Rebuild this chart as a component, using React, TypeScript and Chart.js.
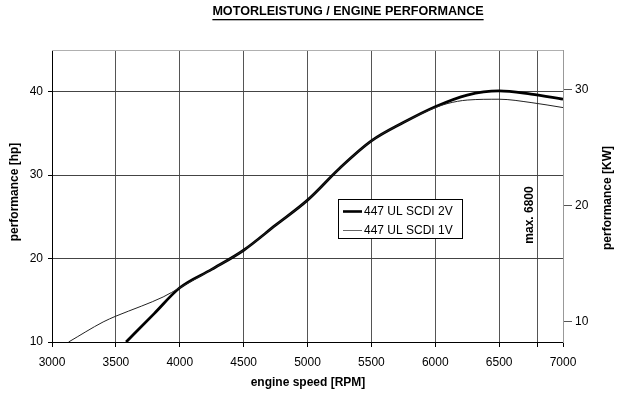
import React, { useEffect, useRef } from "react";
import { Chart, registerables } from "chart.js";

Chart.register(...registerables);

const chartTitle = "MOTORLEISTUNG / ENGINE PERFORMANCE";
const xTitle = "engine speed [RPM]";
const yLeftTitle = "performance [hp]";
const yRightTitle = "performance [KW]";
const maxLabel = "max. 6800";
const seriesNames = ["447 UL SCDI 2V", "447 UL SCDI 1V"];

const xTicks = [3000, 3500, 4000, 4500, 5000, 5500, 6000, 6500, 6800, 7000];
const xTickLabels = ["3000", "3500", "4000", "4500", "5000", "5500", "6000", "6500", "", "7000"];
const hpTicks = [10, 20, 30, 40];
const kwTicks = [10, 20, 30];

const rpm2V = [3580, 3800, 4000, 4250, 4500, 4750, 5000, 5250, 5500, 5750, 6000, 6250, 6500, 6750, 7000];
const hp2V = [10, 13.4, 16.5, 18.7, 21.0, 24.0, 27.0, 30.8, 34.1, 36.3, 38.2, 39.6, 40.1, 39.7, 39.1];

const rpm1V = [3130, 3400, 3500, 3700, 3870, 4000, 4250, 4500, 4750, 5000, 5250, 5500, 5750, 6000, 6100, 6250, 6500, 6750, 7000];
const hp1V = [10, 12.4, 13.1, 14.3, 15.4, 16.5, 18.7, 21.0, 24.0, 27.0, 30.8, 34.1, 36.3, 38.1, 38.6, 39.0, 39.1, 38.7, 38.1];

const FONT = "'Liberation Sans', Arial, sans-serif";

const overlay = {
  id: "overlay",
  afterDatasetsDraw(chart: any) {
    const ctx = chart.ctx;
    const a = chart.chartArea;
    const xs = chart.scales.x;
    ctx.save();
    // top border
    ctx.strokeStyle = "#b0b0b0";
    ctx.lineWidth = 1;
    ctx.beginPath();
    ctx.moveTo(a.left, Math.round(a.top) + 0.5);
    ctx.lineTo(a.right, Math.round(a.top) + 0.5);
    ctx.stroke();

    // title
    ctx.fillStyle = "#000";
    ctx.font = `bold 12.6px ${FONT}`;
    ctx.textAlign = "center";
    ctx.textBaseline = "middle";
    const tx = 348;
    const ty = 12;
    ctx.fillText(chartTitle, tx, ty);
    const tw = ctx.measureText(chartTitle).width;
    ctx.fillRect(tx - tw / 2, ty + 7, tw, 1.3);

    // axis titles
    ctx.font = `bold 12px ${FONT}`;
    ctx.fillText(xTitle, 308, 383);
    ctx.save();
    ctx.translate(15, 192);
    ctx.rotate(-Math.PI / 2);
    ctx.fillText(yLeftTitle, 0, 0);
    ctx.restore();
    ctx.save();
    ctx.translate(608, 198);
    ctx.rotate(-Math.PI / 2);
    ctx.fillText(yRightTitle, 0, 0);
    ctx.restore();

    // max label
    ctx.save();
    ctx.translate(xs.getPixelForValue(6800) - 8, 215);
    ctx.rotate(-Math.PI / 2);
    ctx.fillText(maxLabel, 0, 0);
    ctx.restore();

    // legend
    const lx = 338.5, ly = 199.5, lw = 124, lh = 39;
    ctx.fillStyle = "#fff";
    ctx.fillRect(lx, ly, lw, lh);
    ctx.strokeStyle = "#000";
    ctx.lineWidth = 1;
    ctx.strokeRect(lx, ly, lw, lh);
    ctx.strokeStyle = "#000";
    ctx.lineWidth = 2.6;
    ctx.beginPath();
    ctx.moveTo(343, 211.5);
    ctx.lineTo(362, 211.5);
    ctx.stroke();
    ctx.strokeStyle = "#666";
    ctx.lineWidth = 1;
    ctx.beginPath();
    ctx.moveTo(343, 230.5);
    ctx.lineTo(362, 230.5);
    ctx.stroke();
    ctx.fillStyle = "#000";
    ctx.font = `12px ${FONT}`;
    ctx.textAlign = "left";
    ctx.fillText(seriesNames[0], 364, 212);
    ctx.fillText(seriesNames[1], 364, 231);
    ctx.restore();
  },
};

export default function App() {
  const ref = useRef<HTMLCanvasElement | null>(null);
  useEffect(() => {
    if (!ref.current) return;
    const chart = new Chart(ref.current, {
      type: "line",
      data: {
        datasets: [
          {
            label: seriesNames[1],
            data: rpm1V.map((x, i) => ({ x, y: hp1V[i] })),
            borderColor: "#222",
            borderWidth: 1,
            pointRadius: 0,
            cubicInterpolationMode: "monotone",
            yAxisID: "y",
          },
          {
            label: seriesNames[0],
            data: rpm2V.map((x, i) => ({ x, y: hp2V[i] })),
            borderColor: "#000",
            borderWidth: 2.8,
            pointRadius: 0,
            cubicInterpolationMode: "monotone",
            yAxisID: "y",
          },
        ],
      },
      options: {
        responsive: false,
        animation: false,
        layout: { padding: { top: 50, left: 0, right: 0, bottom: 0 } },
        plugins: { legend: { display: false }, tooltip: { enabled: false }, title: { display: false } },
        scales: {
          x: {
            type: "linear",
            min: 3000,
            max: 7000,
            afterBuildTicks: (s: any) => {
              s.ticks = xTicks.map((v) => ({ value: v }));
            },
            afterFit: (s: any) => {
              s.height = 52;
            },
            ticks: {
              callback: (_v: any, i: number) => xTickLabels[i],
              font: { family: FONT, size: 12 },
              color: "#000",
              padding: 8,
              maxRotation: 0,
              autoSkip: false,
            },
            grid: {
              color: (c: any) => (c.tick && c.tick.value === 7000 ? "#999" : "#555"),
              lineWidth: 1,
              tickLength: 5,
              tickColor: "#000",
            },
            border: { color: "#000", width: 1 },
          },
          y: {
            type: "linear",
            position: "left",
            min: 10,
            max: 45,
            afterBuildTicks: (s: any) => {
              s.ticks = hpTicks.map((v) => ({ value: v }));
            },
            afterFit: (s: any) => {
              s.width = 52;
            },
            ticks: {
              font: { family: FONT, size: 12 },
              color: "#000",
              padding: 5,
            },
            grid: {
              color: "#444",
              lineWidth: 1,
              tickLength: 4,
              tickColor: "#000",
            },
            border: { color: "#000", width: 1 },
          },
          y1: {
            type: "linear",
            position: "right",
            min: 8.25,
            max: 33.42,
            afterBuildTicks: (s: any) => {
              s.ticks = kwTicks.map((v) => ({ value: v }));
            },
            afterFit: (s: any) => {
              s.width = 77;
            },
            ticks: {
              font: { family: FONT, size: 12 },
              color: "#000",
              padding: 3,
            },
            grid: {
              drawOnChartArea: false,
              tickLength: 9,
              tickColor: "#555",
            },
            border: { color: "#999", width: 1 },
          },
        },
      },
      plugins: [overlay],
    });
    return () => chart.destroy();
  }, []);
  return (
    <div style={{ position: "fixed", left: 0, top: 0, width: 640, height: 394, background: "#fff" }}>
      <canvas ref={ref} width={640} height={394} style={{ display: "block" }} />
    </div>
  );
}
